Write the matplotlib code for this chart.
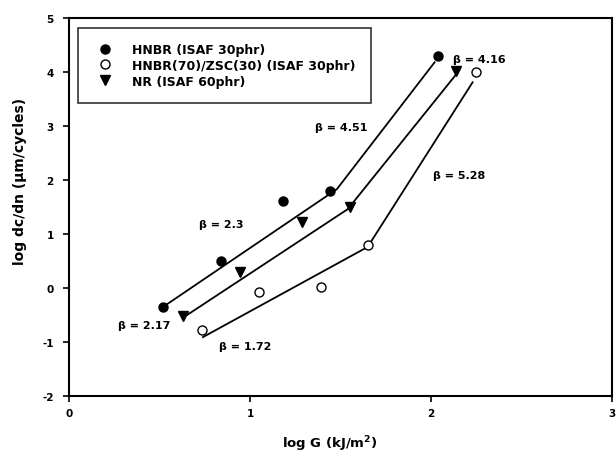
import numpy as np
import matplotlib
matplotlib.use("Agg")
import matplotlib.pyplot as plt

plt.rcParams["font.family"] = ["DejaVu Sans"]
plt.rcParams["font.weight"] = "bold"
plt.rcParams["axes.unicode_minus"] = False
plt.rcParams["mathtext.default"] = "bf"

# measured points
hnbr_x = [0.52, 0.84, 1.18, 1.44, 2.04]
hnbr_y = [-0.35, 0.50, 1.61, 1.80, 4.30]
blend_x = [0.735, 1.05, 1.39, 1.65, 2.25]
blend_y = [-0.78, -0.07, 0.02, 0.80, 4.00]
nr_x = [0.63, 0.945, 1.29, 1.55, 2.14]
nr_y = [-0.52, 0.30, 1.22, 1.50, 4.02]

# fitted lines (start, kink, end)
hnbr_fit_x = [0.52, 1.48, 2.02]
hnbr_fit_y = [-0.35, 1.83, 4.18]
blend_fit_x = [0.74, 1.65, 2.23]
blend_fit_y = [-0.91, 0.76, 3.81]
nr_fit_x = [0.63, 1.54, 2.14]
nr_fit_y = [-0.55, 1.46, 3.96]

# slope labels
beta_text = ["β = 4.51", "β = 4.16", "β = 5.28", "β = 2.3", "β = 2.17", "β = 1.72"]
beta_x = [1.36, 2.12, 2.01, 0.72, 0.27, 0.83]
beta_y = [2.98, 4.24, 2.09, 1.19, -0.69, -1.08]

fig = plt.figure(figsize=(6.16, 4.6), dpi=100)
ax = fig.add_axes([0.112, 0.137, 0.8815, 0.8217])

ax.plot(hnbr_fit_x, hnbr_fit_y, color="black", lw=1.3)
ax.plot(blend_fit_x, blend_fit_y, color="black", lw=1.3)
ax.plot(nr_fit_x, nr_fit_y, color="black", lw=1.3)

ax.plot(hnbr_x, hnbr_y, "o", color="black", ms=6.5, ls="none", label="HNBR (ISAF 30phr)")
ax.plot(blend_x, blend_y, "o", mfc="white", mec="black", mew=1.0, ms=6.5, ls="none",
        label="HNBR(70)/ZSC(30) (ISAF 30phr)")
ax.plot(nr_x, nr_y, "v", color="black", ms=6.5, ls="none", label="NR (ISAF 60phr)")

for t, x, y in zip(beta_text, beta_x, beta_y):
    ax.text(x, y, t, fontsize=8, fontweight="bold", va="center", ha="left")

ax.set_xlim(0, 3)
ax.set_ylim(-2, 5)
ax.set_xticks([0, 1, 2, 3])
ax.set_yticks([-2, -1, 0, 1, 2, 3, 4, 5])
ax.tick_params(direction="out", length=4, width=1.2, labelsize=7.5, pad=7)
ax.tick_params(axis="x", pad=5)
for s in ax.spines.values():
    s.set_linewidth(1.5)

ax.set_xlabel("log G (kJ/m$^2$)", fontsize=9.5, fontweight="bold")
ax.xaxis.set_label_coords(0.48, -0.098)
ax.set_ylabel("log dc/dn (μm/cycles)", fontsize=10, fontweight="bold")
ax.yaxis.set_label_coords(-0.077, 0.57)

leg = ax.legend(loc="upper left", bbox_to_anchor=(0.016, 0.9735), fontsize=9.0,
                frameon=True, fancybox=False, edgecolor="black", handletextpad=1.25,
                labelspacing=0.22, borderpad=1.2, handlelength=1.9, borderaxespad=0)
leg.get_frame().set_linewidth(1.2)

fig.savefig("out.png", dpi=100)
plt.close(fig)
